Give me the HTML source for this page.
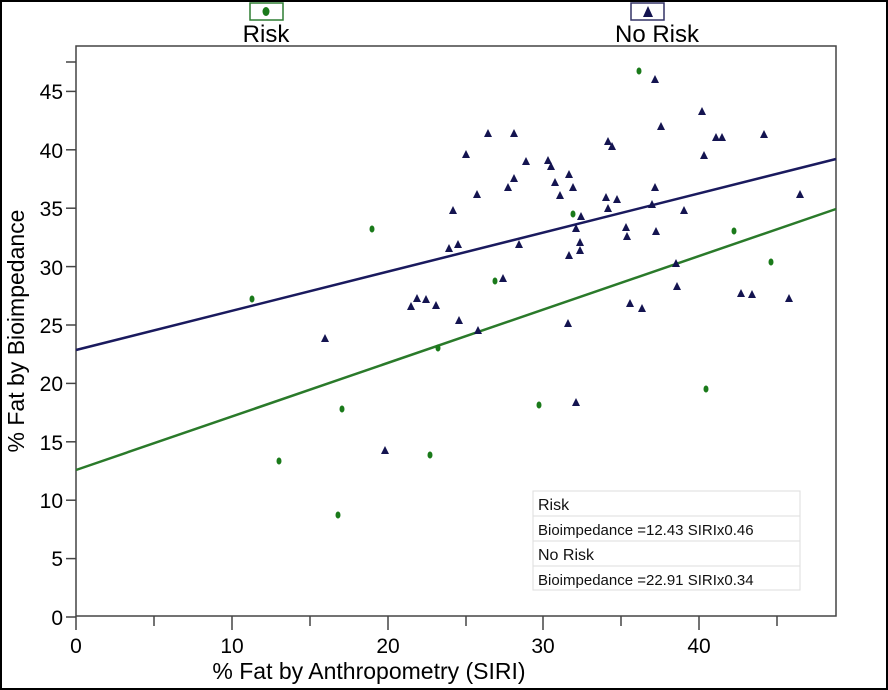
<!DOCTYPE html>
<html><head><meta charset="utf-8"><style>
html,body{margin:0;padding:0;background:#fff;}
svg{display:block;}
text{font-family:"Liberation Sans",sans-serif;}
</style></head><body>
<svg width="888" height="690" viewBox="0 0 888 690" xmlns="http://www.w3.org/2000/svg">
<rect x="1" y="1" width="886" height="688" fill="#fff" stroke="#000" stroke-width="2"/>
<rect x="250" y="3" width="33" height="17" fill="#fff" stroke="#2e7d32" stroke-width="1.5"/>
<ellipse cx="266" cy="11.5" rx="3.5" ry="4.5" fill="#1a7a1a"/>
<rect x="631" y="3" width="33" height="17" fill="#fff" stroke="#333366" stroke-width="1.5"/>
<polygon points="648,6 643,17 653,17" fill="#141450"/>
<text x="266" y="42" font-size="24" text-anchor="middle" fill="#000">Risk</text>
<text x="657" y="42" font-size="24" text-anchor="middle" fill="#000">No Risk</text>
<rect x="76" y="46" width="760" height="570" fill="#fff" stroke="#444" stroke-width="1.5"/>
<g stroke="#444" stroke-width="1.5">
<line x1="66" y1="617" x2="76" y2="617"/><line x1="66" y1="558.6" x2="76" y2="558.6"/><line x1="66" y1="500.2" x2="76" y2="500.2"/><line x1="66" y1="441.8" x2="76" y2="441.8"/><line x1="66" y1="383.4" x2="76" y2="383.4"/><line x1="66" y1="325" x2="76" y2="325"/><line x1="66" y1="266.6" x2="76" y2="266.6"/><line x1="66" y1="208.2" x2="76" y2="208.2"/><line x1="66" y1="149.8" x2="76" y2="149.8"/><line x1="66" y1="91.4" x2="76" y2="91.4"/><line x1="66" y1="62" x2="76" y2="62"/>
<line x1="76" y1="616" x2="76" y2="630"/><line x1="154" y1="616" x2="154" y2="626"/><line x1="232" y1="616" x2="232" y2="630"/><line x1="310" y1="616" x2="310" y2="626"/><line x1="388" y1="616" x2="388" y2="630"/><line x1="466" y1="616" x2="466" y2="626"/><line x1="543" y1="616" x2="543" y2="630"/><line x1="621" y1="616" x2="621" y2="626"/><line x1="699" y1="616" x2="699" y2="630"/><line x1="777" y1="616" x2="777" y2="626"/>
</g>
<g font-size="21" fill="#000" text-anchor="end">
<text x="63" y="625">0</text><text x="63" y="566">5</text><text x="63" y="508">10</text><text x="63" y="450">15</text><text x="63" y="391">20</text><text x="63" y="333">25</text><text x="63" y="275">30</text><text x="63" y="216">35</text><text x="63" y="158">40</text><text x="63" y="99">45</text>
</g>
<g font-size="21" fill="#000" text-anchor="middle">
<text x="76" y="653">0</text><text x="232" y="653">10</text><text x="388" y="653">20</text><text x="543" y="653">30</text><text x="699" y="653">40</text>
</g>
<text x="369" y="679" font-size="23" text-anchor="middle">% Fat by Anthropometry (SIRI)</text>
<text transform="translate(24,331) rotate(-90)" font-size="23" text-anchor="middle">% Fat by Bioimpedance</text>
<line x1="76" y1="350" x2="836" y2="159" stroke="#1a1a5e" stroke-width="2.5"/>
<line x1="76" y1="470" x2="836" y2="209" stroke="#2a7a2a" stroke-width="2.5"/>
<g fill="#141450">
<polygon points="325,334 321,342 329,342"/><polygon points="411,302 407,310 415,310"/><polygon points="417,294 413,302 421,302"/><polygon points="426,295 422,303 430,303"/><polygon points="436,301 432,309 440,309"/><polygon points="449,244 445,252 453,252"/><polygon points="458,240 454,248 462,248"/><polygon points="453,206 449,214 457,214"/><polygon points="459,316 455,324 463,324"/><polygon points="466,150 462,158 470,158"/><polygon points="477,190 473,198 481,198"/><polygon points="478,326 474,334 482,334"/><polygon points="488,129 484,137 492,137"/><polygon points="503,274 499,282 507,282"/><polygon points="508,183 504,191 512,191"/><polygon points="514,174 510,182 518,182"/><polygon points="519,240 515,248 523,248"/><polygon points="526,157 522,165 530,165"/><polygon points="514,129 510,137 518,137"/><polygon points="548,156 544,164 552,164"/><polygon points="551,162 547,170 555,170"/><polygon points="555,178 551,186 559,186"/><polygon points="560,191 556,199 564,199"/><polygon points="569,170 565,178 573,178"/><polygon points="569,251 565,259 573,259"/><polygon points="573,183 569,191 577,191"/><polygon points="576,224 572,232 580,232"/><polygon points="580,246 576,254 584,254"/><polygon points="580,238 576,246 584,246"/><polygon points="581,212 577,220 585,220"/><polygon points="568,319 564,327 572,327"/><polygon points="576,398 572,406 580,406"/><polygon points="608,137 604,145 612,145"/><polygon points="612,142 608,150 616,150"/><polygon points="606,193 602,201 610,201"/><polygon points="608,204 604,212 612,212"/><polygon points="617,195 613,203 621,203"/><polygon points="626,223 622,231 630,231"/><polygon points="627,232 623,240 631,240"/><polygon points="630,299 626,307 634,307"/><polygon points="642,304 638,312 646,312"/><polygon points="652,200 648,208 656,208"/><polygon points="655,75 651,83 659,83"/><polygon points="655,183 651,191 659,191"/><polygon points="656,227 652,235 660,235"/><polygon points="661,122 657,130 665,130"/><polygon points="676,259 672,267 680,267"/><polygon points="684,206 680,214 688,214"/><polygon points="677,282 673,290 681,290"/><polygon points="702,107 698,115 706,115"/><polygon points="704,151 700,159 708,159"/><polygon points="716,133 712,141 720,141"/><polygon points="722,133 718,141 726,141"/><polygon points="741,289 737,297 745,297"/><polygon points="752,290 748,298 756,298"/><polygon points="764,130 760,138 768,138"/><polygon points="789,294 785,302 793,302"/><polygon points="800,190 796,198 804,198"/><polygon points="385,446 381,454 389,454"/>
</g>
<g fill="#1a7a1a">
<ellipse cx="252" cy="299" rx="2.5" ry="3.5"/><ellipse cx="279" cy="461" rx="2.5" ry="3.5"/><ellipse cx="342" cy="409" rx="2.5" ry="3.5"/><ellipse cx="338" cy="515" rx="2.5" ry="3.5"/><ellipse cx="372" cy="229" rx="2.5" ry="3.5"/><ellipse cx="438" cy="348" rx="2.5" ry="3.5"/><ellipse cx="430" cy="455" rx="2.5" ry="3.5"/><ellipse cx="495" cy="281" rx="2.5" ry="3.5"/><ellipse cx="539" cy="405" rx="2.5" ry="3.5"/><ellipse cx="573" cy="214" rx="2.5" ry="3.5"/><ellipse cx="639" cy="71" rx="2.5" ry="3.5"/><ellipse cx="706" cy="389" rx="2.5" ry="3.5"/><ellipse cx="734" cy="231" rx="2.5" ry="3.5"/><ellipse cx="771" cy="262" rx="2.5" ry="3.5"/>
</g>
<g stroke="#ddd" stroke-width="1" fill="#fff">
<rect x="533" y="491" width="267" height="99"/>
<line x1="533" y1="516" x2="800" y2="516"/><line x1="533" y1="541" x2="800" y2="541"/><line x1="533" y1="566" x2="800" y2="566"/>
</g>
<g fill="#111">
<text x="538" y="510" font-size="16">Risk</text>
<text x="538" y="535" font-size="15">Bioimpedance =12.43 SIRIx0.46</text>
<text x="538" y="560" font-size="16">No Risk</text>
<text x="538" y="585" font-size="15">Bioimpedance =22.91 SIRIx0.34</text>
</g>
</svg>
</body></html>
